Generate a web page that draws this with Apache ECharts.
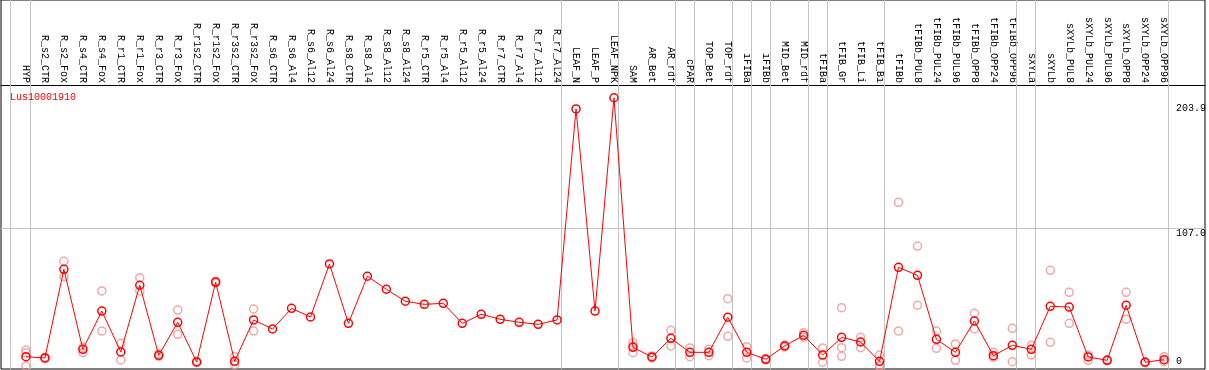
<!DOCTYPE html>
<html>
<head>
<meta charset="utf-8">
<script src="https://cdn.jsdelivr.net/npm/echarts@6/dist/echarts.min.js"></script>
<style>
html,body{margin:0;padding:0;background:#fff;}
#chart{width:1209px;height:370px;}
</style>
</head>
<body>
<div id="chart"></div>
<script>
const geneName = 'Lus10001910';
const categories = ['HYP','R_s2_CTR','R_s2_Fox','R_s4_CTR','R_s4_Fox','R_r1_CTR','R_r1_Fox','R_r3_CTR','R_r3_Fox','R_r1s2_CTR','R_r1s2_Fox','R_r3s2_CTR','R_r3s2_Fox','R_s6_CTR','R_s6_Al4','R_s6_Al12','R_s6_Al24','R_s8_CTR','R_s8_Al4','R_s8_Al12','R_s8_Al24','R_r5_CTR','R_r5_Al4','R_r5_Al12','R_r5_Al24','R_r7_CTR','R_r7_Al4','R_r7_Al12','R_r7_Al24','LEAF_N','LEAF_P','LEAF_NPK','SAM','AR_Bet','AR_rdf','cPAR','TOP_Bet','TOP_rdf','iFIBa','iFIBb','MID_Bet','MID_rdf','tFIBa','tFIB_Gr','tFIB_Li','tFIB_Bi','tFIBb','tFIBb_PUL8','tFIBb_PUL24','tFIBb_PUL96','tFIBb_OPP8','tFIBb_OPP24','tFIBb_OPP96','sXYLa','sXYLb','sXYLb_PUL8','sXYLb_PUL24','sXYLb_PUL96','sXYLb_OPP8','sXYLb_OPP24','sXYLb_OPP96'];
const meanValues = [7.2,6.2,75.0,12.9,42.6,10.9,62.6,8.3,33.9,3.1,65.1,3.6,35.7,
  28.7,44.7,38.0,79.1,33.1,69.6,59.5,50.2,47.8,48.6,33.1,40.1,36.2,33.9,32.3,35.7,
  199.3,42.6,208.0,
  14.5,7.0,21.5,10.6,10.6,37.8,10.6,5.2,15.5,23.8,
  8.5,22.2,18.6,3.6,
  76.5,70.3,20.7,10.6,34.9,8.0,16.0,
  12.9,46.3,45.7,7.0,4.4,47.1,2.9,4.9];
const replicateValues = [
  [12.4,10.3,0],[6.8,5.6],[81.2,69.3],[14.5,10.3],[58.2,27.1],[17.6,4.7],[68.5,58.2],[9.5,7.5],[43.4,24.6],[3.6,2.6],[65.8,64.4],[7.2,1.0],[44.2,27.1],
  [],[],[],[],[],[],[],[],[],[],[],[],[],[],[],[],
  [],[],[],
  [18.1,15.5,10.3],[7.8,6.2],[27.7,15.5],[14.0,7.2],[13.0,8.0],[52.2,23.0],[15.0,6.2],[5.8,4.6],[16.2,14.8],[25.8,22.2],
  [14.0,2.9],[45.2,14.2,7.5],[22.2,14.2],[8.5,0.3,0],
  [126.9,27.1],[93.0,47.1],[27.1,13.7],[17.1,4.4],[40.9,28.7],[10.6,6.7],[29.2,3.3],
  [16.0,8.5],[74.2,18.4],[57.1,33.1],[8.5,4.4],[4.8,4.0],[57.1,36.2],[3.3,2.5],[7.2,3.3]
];
const groupEndIndices = [0,28,31,34,35,37,38,39,41,42,45,52,53,60];
const yTickValues = [0, 107.0, 203.9];
const yTickLabels = ['0', '107.0', '203.9'];

const MONO = "'Liberation Mono', 'DejaVu Sans Mono', monospace";
const dividerPositions = [-0.84].concat(groupEndIndices.map(i => i + 0.23));
const meanData = meanValues.map((v, i) => [i, v]);
const repData = [];
replicateValues.forEach((arr, i) => arr.forEach(v => repData.push([i, v])));

const chart = echarts.init(document.getElementById('chart'), null, {renderer: 'canvas'});
chart.setOption({
  animation: false,
  backgroundColor: '#fff',
  title: {
    text: geneName, left: 10, top: 92, padding: 0,
    textStyle: {color: '#ff0000', fontFamily: MONO, fontSize: 10, fontWeight: 'normal'}
  },
  grid: {left: 1, right: 2, top: 0, bottom: 1, show: true, borderColor: '#000', borderWidth: 1, backgroundColor: '#fff', containLabel: false},
  xAxis: {
    type: 'value', position: 'top', offset: -85,
    min: -25/19, max: -25/19 + 1206/19,
    axisLine: {show: true, onZero: false, lineStyle: {color: '#000', width: 1}},
    axisTick: {show: false},
    splitLine: {show: false},
    axisLabel: {
      customValues: categories.map((_, i) => i),
      formatter: v => categories[Math.round(v)] || '',
      rotate: 90, margin: 2, color: '#000', fontFamily: MONO, fontSize: 10
    }
  },
  yAxis: {
    type: 'value', position: 'right',
    min: -3 / (138/107), max: 366 / (138/107),
    axisLine: {show: false}, axisTick: {show: false}, splitLine: {show: false},
    axisLabel: {
      inside: true, margin: 29, align: 'left',
      customValues: yTickValues,
      formatter: v => { const k = yTickValues.findIndex(t => Math.abs(t - v) < 1e-6); return k >= 0 ? yTickLabels[k] : ''; },
      verticalAlign: 'top', verticalAlignMinLabel: 'bottom',
      color: '#000', fontFamily: MONO, fontSize: 10
    }
  },
  series: [
    {
      type: 'scatter', data: repData, symbol: 'circle', symbolSize: 8, z: 3,
      itemStyle: {color: 'rgba(0,0,0,0)', borderColor: '#eb9494', borderWidth: 1.5},
      emphasis: {disabled: true}, silent: true,
      markLine: {
        silent: true, symbol: ['none', 'none'], label: {show: false}, z: 1,
        lineStyle: {color: '#c4c4c4', type: 'solid', width: 1},
        emphasis: {disabled: true},
        data: dividerPositions.map(x => ({xAxis: x})).concat([{yAxis: 107.0}])
      }
    },
    {
      type: 'line', data: meanData, symbol: 'circle', symbolSize: 8, z: 4,
      color: '#ff0000',
      lineStyle: {color: '#ff0000', width: 1},
      itemStyle: {color: 'rgba(0,0,0,0)', borderColor: '#ff0000', borderWidth: 1.5},
      emphasis: {disabled: true}, silent: true
    }
  ]
});
</script>
</body>
</html>
